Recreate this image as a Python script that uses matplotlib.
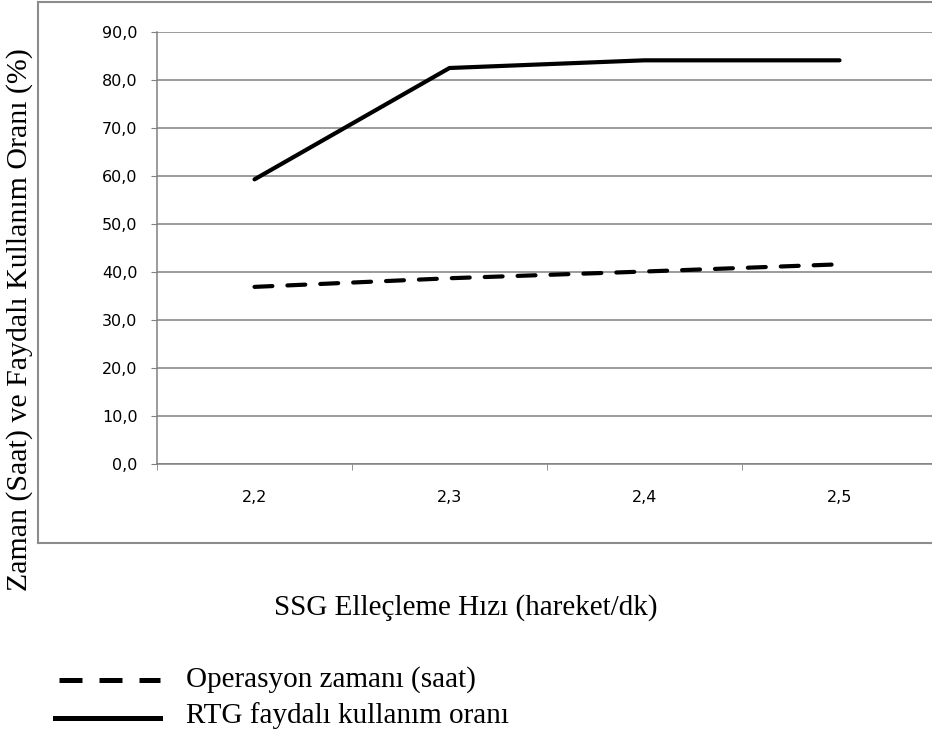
import matplotlib.pyplot as plt
import numpy as np
from matplotlib.lines import Line2D

# data
hiz = ['2,2', '2,3', '2,4', '2,5']
operasyon = [36.9, 38.7, 40.1, 41.6]
rtg = [59.3, 82.5, 84.1, 84.1]
yticks = np.arange(0, 91, 10)

W, H = 932, 742
fig = plt.figure(figsize=(W / 100, H / 100), dpi=100)

def fx(px):
    return px / W

def fy(py):
    return 1 - py / H

ax = fig.add_axes([fx(157), fy(464), fx(937 - 157), (464 - 32) / H])
x = np.arange(len(hiz))

ax.plot(x, rtg, color='black', lw=3, solid_capstyle='round', solid_joinstyle='round')
ax.plot(x, operasyon, color='black', lw=3, dashes=(4.3, 3.6), dash_capstyle='round')

ax.set_xlim(-0.5, len(hiz) - 0.5)
ax.set_ylim(0, 90)
ax.set_yticks(yticks)
ax.set_yticklabels([f'{v:.1f}'.replace('.', ',') for v in yticks],
                   fontsize=11.5, family='DejaVu Sans')
ax.yaxis.grid(True, color='#808080', lw=1.1)
ax.set_axisbelow(True)

ax.set_xticks(x)
ax.set_xticklabels(hiz, fontsize=11.5, family='DejaVu Sans')
ax.set_xticks(np.arange(-0.5, len(hiz)), minor=True)
ax.tick_params(axis='x', which='major', length=0, pad=19)
ax.tick_params(axis='x', which='minor', length=4, color='#808080', direction='out')
ax.tick_params(axis='y', length=4, color='#808080', direction='out', pad=10)

for s in ['top', 'right']:
    ax.spines[s].set_visible(False)
for s in ['left', 'bottom']:
    ax.spines[s].set_color('#808080')
    ax.spines[s].set_linewidth(1.1)

# chart area border
gray = '#8c8c8c'
fig.add_artist(Line2D([fx(38), fx(38)], [fy(2), fy(543)], color=gray, lw=1.5))
fig.add_artist(Line2D([fx(38), 1], [fy(2), fy(2)], color=gray, lw=1.5))
fig.add_artist(Line2D([fx(38), 1], [fy(543), fy(543)], color=gray, lw=1.5))

serif = 'Liberation Serif'
fig.text(fx(20), fy(320), 'Zaman (Saat) ve Faydalı Kullanım Oranı (%)',
         rotation=90, ha='center', va='center', fontsize=21.5, family=serif)
fig.text(fx(466), fy(608), 'SSG Elleçleme Hızı (hareket/dk)',
         ha='center', va='center', fontsize=21, family=serif)

# legend
fig.add_artist(Line2D([fx(59), fx(160)], [fy(680), fy(680)], color='black',
                      lw=3.6, dashes=(4.6, 3.4)))
fig.add_artist(Line2D([fx(55), fx(160)], [fy(718), fy(718)], color='black', lw=3.6))
fig.text(fx(186), fy(680), 'Operasyon zamanı (saat)', va='center',
         fontsize=21, family=serif)
fig.text(fx(186), fy(716), 'RTG faydalı kullanım oranı', va='center',
         fontsize=21, family=serif)

fig.savefig('out.png', dpi=100)
